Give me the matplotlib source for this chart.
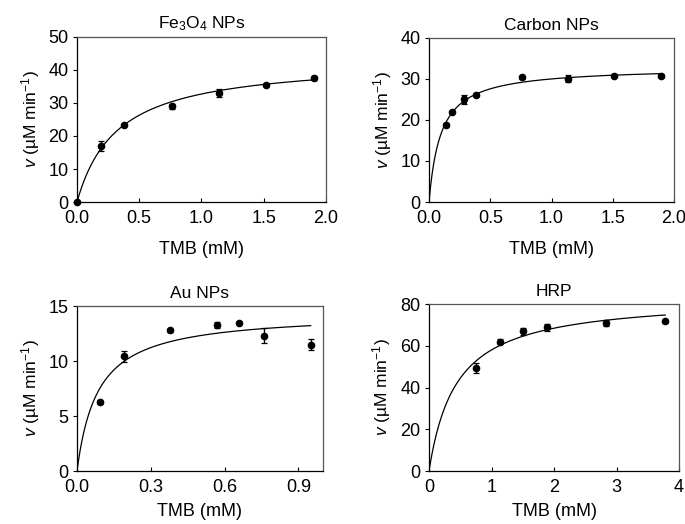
import numpy as np
import matplotlib
matplotlib.use("Agg")
import matplotlib.pyplot as plt

plt.rcParams['font.family'] = ['Liberation Sans', 'DejaVu Sans']
plt.rcParams['mathtext.fontset'] = 'custom'
plt.rcParams['mathtext.rm'] = 'Liberation Sans'
plt.rcParams['mathtext.it'] = 'Liberation Sans:italic'
plt.rcParams['mathtext.bf'] = 'Liberation Sans:bold'

# ---- data ----
fe_x = [0.0, 0.19, 0.38, 0.76, 1.14, 1.52, 1.90]
fe_y = [0.0, 16.9, 23.4, 29.0, 33.0, 35.4, 37.7]
fe_err = [0.0, 1.5, 0.3, 0.8, 1.2, 0.3, 0.6]
fe_vmax, fe_km = 43.3, 0.323

c_x = [0.14, 0.19, 0.285, 0.38, 0.755, 1.135, 1.51, 1.89]
c_y = [18.9, 22.0, 25.0, 26.2, 30.4, 30.1, 30.8, 30.8]
c_err = [0.3, 0.3, 1.0, 0.3, 0.3, 0.9, 0.3, 0.3]
c_vmax, c_km = 32.9, 0.096

au_x = [0.095, 0.19, 0.38, 0.57, 0.66, 0.76, 0.95]
au_y = [6.3, 10.45, 12.8, 13.27, 13.42, 12.3, 11.5]
au_err = [0.2, 0.5, 0.15, 0.25, 0.1, 0.68, 0.5]
au_vmax, au_km = 14.4, 0.085

hrp_x = [0.75, 1.13, 1.51, 1.89, 2.835, 3.78]
hrp_y = [49.2, 62.0, 66.9, 68.8, 70.9, 71.7]
hrp_err = [2.4, 1.2, 1.5, 1.5, 1.5, 0.8]
hrp_vmax, hrp_km = 83.4, 0.4375

panels = [
    dict(title='Fe$_3$O$_4$ NPs', x=fe_x, y=fe_y, e=fe_err, vmax=fe_vmax, km=fe_km,
         xmax_fit=1.90, xlim=(0, 2.0), xt=[0, 0.5, 1.0, 1.5, 2.0], xfmt='{:.1f}',
         ylim=(0, 50), yt=[0, 10, 20, 30, 40, 50], elw=1.0, xlp=10,
         pos=[0.1124, 0.6145, 0.3635, 0.3149]),
    dict(title='Carbon NPs', x=c_x, y=c_y, e=c_err, vmax=c_vmax, km=c_km,
         xmax_fit=1.90, xlim=(0, 2.0), xt=[0, 0.5, 1.0, 1.5, 2.0], xfmt='{:.1f}',
         ylim=(0, 40), yt=[0, 10, 20, 30, 40], elw=3.5, xlp=10,
         pos=[0.6263, 0.6145, 0.3577, 0.3130]),
    dict(title='Au NPs', x=au_x, y=au_y, e=au_err, vmax=au_vmax, km=au_km,
         xmax_fit=0.95, xlim=(0, 1.0), xt=[0, 0.3, 0.6, 0.9], xfmt='{:.1f}',
         ylim=(0, 15), yt=[0, 5, 10, 15], elw=1.0, xlp=5,
         pos=[0.1124, 0.1011, 0.3591, 0.3149]),
    dict(title='HRP', x=hrp_x, y=hrp_y, e=hrp_err, vmax=hrp_vmax, km=hrp_km,
         xmax_fit=3.78, xlim=(0, 4), xt=[0, 1, 2, 3, 4], xfmt='{:.0f}',
         ylim=(0, 80), yt=[0, 20, 40, 60, 80], elw=1.0, xlp=5,
         pos=[0.6263, 0.1011, 0.3650, 0.3187]),
]

fig = plt.figure(figsize=(6.85, 5.24), dpi=100)

for p in panels:
    ax = fig.add_axes(p['pos'])
    xs = np.linspace(0, p['xmax_fit'], 300)
    ax.plot(xs, p['vmax'] * xs / (p['km'] + xs), color='black', lw=0.9, zorder=2)
    ax.errorbar(p['x'], p['y'], yerr=p['e'], fmt='o', color='black', ms=4.5,
                ecolor='black', elinewidth=p['elw'], capsize=2.2, capthick=0.9,
                zorder=3, clip_on=False)
    ax.set_xlim(*p['xlim'])
    ax.set_ylim(*p['ylim'])
    ax.set_xticks(p['xt'])
    ax.set_xticklabels([p['xfmt'].format(v) for v in p['xt']])
    ax.set_yticks(p['yt'])
    ax.tick_params(axis='x', direction='in', length=3, width=0.8, labelsize=13, pad=6)
    ax.tick_params(axis='y', direction='out', length=3, width=0.8, labelsize=13, pad=3)
    for s in ['left', 'bottom']:
        ax.spines[s].set_color('black')
        ax.spines[s].set_linewidth(0.9)
    for s in ['top', 'right']:
        ax.spines[s].set_color('#555555')
        ax.spines[s].set_linewidth(0.9)
    ax.set_title(p['title'], fontsize=12.5, pad=6)
    ax.set_xlabel('TMB (mM)', fontsize=13, labelpad=p['xlp'])
    ax.set_ylabel('$\\mathit{v}$ (\u00b5M min$^{-1}$)', fontsize=12.5, labelpad=5)

fig.savefig('out.png', dpi=100)
